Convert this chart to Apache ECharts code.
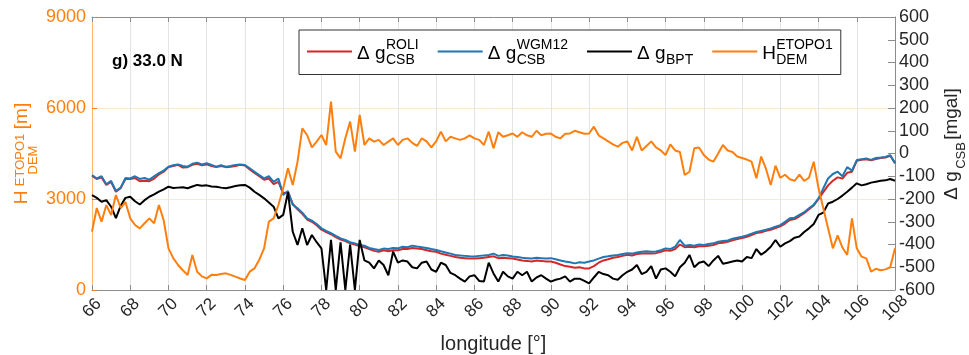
<!DOCTYPE html>
<html>
<head>
<meta charset="utf-8">
<script src="https://cdn.jsdelivr.net/npm/echarts@6/dist/echarts.min.js"></script>
<style>
  html, body { margin: 0; padding: 0; background: #fff; }
  #chart { width: 969px; height: 355px; }
</style>
</head>
<body>
<div id="chart"></div>
<script>
// longitude grid, 0.25 deg sampling from 66 to 108
const lon = [];
for (let i = 0; i <= 168; i++) lon.push(66 + i * 0.25);

// Δg CSB from ROLI [mgal]
const roli = [
  -98, -112, -105, -138, -125, -168, -152, -112,
  -112, -108, -122, -120, -122, -110, -92, -80,
  -60, -55, -50, -62, -60, -50, -45, -52,
  -48, -55, -60, -55, -60, -58, -55, -50,
  -53, -70, -85, -100, -115, -110, -135, -125,
  -175, -170, -222, -245, -265, -290, -300, -315,
  -335, -345, -355, -368, -378, -385, -395, -400,
  -408, -412, -420, -428, -432, -425, -430, -425,
  -425, -420, -420, -415, -418, -420, -425, -430,
  -432, -440, -445, -450, -455, -458, -460, -462,
  -462, -460, -458, -455, -452, -460, -458, -460,
  -462, -466, -470, -472, -475, -470, -472, -475,
  -475, -480, -488, -495, -498, -502, -500, -505,
  -505, -495, -480, -470, -465, -458, -455, -450,
  -445, -448, -442, -440, -438, -440, -438, -432,
  -425, -428, -420, -400, -412, -410, -412, -408,
  -408, -405, -402, -395, -392, -388, -382, -376,
  -372, -366, -358, -350, -346, -340, -335, -328,
  -320, -308, -292, -288, -276, -262, -245, -228,
  -200, -170, -140, -120, -105, -110, -85, -80,
  -32, -28, -25, -30, -24, -20, -18, -10,
  -40
];

// Δg CSB from WGM12 [mgal]
const wgm12 = [
  -95, -110, -100, -135, -120, -165, -150, -108,
  -110, -100, -112, -108, -115, -100, -86, -75,
  -58, -52, -48, -55, -58, -45, -40, -48,
  -43, -50, -58, -52, -58, -55, -50, -48,
  -51, -65, -80, -95, -109, -100, -125, -110,
  -182, -165, -225, -241, -260, -285, -295, -310,
  -329, -340, -350, -362, -373, -380, -390, -395,
  -402, -405, -415, -420, -424, -418, -420, -415,
  -417, -410, -412, -405, -409, -412, -415, -420,
  -424, -430, -435, -440, -446, -448, -450, -452,
  -453, -450, -448, -446, -440, -450, -446, -448,
  -453, -455, -458, -460, -462, -458, -460, -462,
  -460, -465, -470, -475, -478, -483, -478, -480,
  -475, -470, -462, -455, -452, -448, -446, -442,
  -438, -440, -435, -432, -430, -432, -431, -425,
  -417, -420, -410, -380, -405, -402, -405, -400,
  -402, -398, -395, -388, -385, -382, -375, -370,
  -366, -360, -352, -345, -340, -335, -329, -322,
  -315, -300, -285, -282, -270, -258, -241, -225,
  -197, -153, -110, -90, -80, -100, -60, -75,
  -29, -25, -22, -28, -20, -18, -15, -7,
  -44
];

// Δg BPT [mgal]
const bpt = [
  -183, -195, -212, -205, -234, -284, -230, -195,
  -190, -210, -224, -205, -190, -180, -168, -158,
  -146, -152, -150, -148, -153, -145, -138, -142,
  -140, -145, -146, -150, -153, -148, -143, -140,
  -138, -150, -168, -182, -197, -215, -234, -285,
  -270, -170, -344, -402, -329, -402, -358, -390,
  -417, -600, -380, -600, -390, -600, -400, -600,
  -380, -470, -480, -505, -470, -490, -535, -431,
  -480, -470, -475, -500, -505, -480, -475, -510,
  -520, -480, -490, -525, -535, -550, -563, -540,
  -535, -560, -563, -480, -527, -563, -520, -540,
  -550, -520, -535, -520, -563, -545, -535, -550,
  -563, -555, -550, -540, -563, -550, -550, -560,
  -571, -545, -520, -530, -535, -550, -555, -535,
  -520, -510, -490, -530, -520, -495, -550, -510,
  -505, -520, -540, -500, -480, -446, -500, -480,
  -475, -495, -470, -450, -485, -480, -475, -470,
  -475, -455, -460, -420, -445, -430, -410, -380,
  -410, -395, -385, -370, -365, -345, -329, -310,
  -270, -260, -220, -212, -200, -185, -168, -150,
  -131, -140, -135, -128, -124, -120, -118, -112,
  -120
];

// H DEM ETOPO1 [m]
const etopo1 = [
  1923, 2703, 2253, 2800, 2473, 3132, 2703, 2900,
  2363, 2143, 2033, 2200, 2363, 2198, 2802, 2300,
  1374, 1050, 824, 650, 494, 1154, 604, 450,
  384, 500, 494, 530, 549, 500, 439, 380,
  330, 604, 714, 1000, 1374, 2253, 2363, 2802,
  3352, 4011, 3462, 4230, 5330, 5110, 4700, 4890,
  5110, 4780, 6210, 4560, 4340, 5000, 5550, 4560,
  5770, 4780, 5000, 4890, 4950, 4780, 4890, 5000,
  4780, 4950, 5000, 4850, 4750, 5000, 4900, 4700,
  4900, 5220, 4900, 5050, 5000, 4950, 5000, 5100,
  5000, 4950, 4780, 5220, 4670, 5200, 5050, 5100,
  5160, 5050, 5200, 5100, 5050, 5250, 5100, 5150,
  5160, 5050, 5000, 5150, 5160, 5250, 5200, 5150,
  5160, 5385, 5100, 5000, 4900, 4800, 4725, 4850,
  4900, 4600, 5050, 4600, 4750, 4900, 4700, 4600,
  4450, 4800, 4600, 4550, 3791, 3900, 4670, 4700,
  4450, 4300, 4230, 4500, 4780, 4600, 4550, 4400,
  4350, 4300, 4230, 3682, 4400, 4000, 3462, 4100,
  3700, 3800, 3650, 3600, 3800, 3600, 3700, 4230,
  3352, 2693, 2033, 1374, 1800, 1400, 1154, 2363,
  1374, 1100, 1044, 604, 700, 650, 680, 750,
  1374
];

const FONT = '"Liberation Sans", Arial, Helvetica, sans-serif';
const ORANGE = '#ff7f0e';
const RED = '#d62728';
const BLUE = '#1f77b4';
const AXIS_GRAY = '#8c8c8c';
const TEXT = '#262626';

// legend labels with stacked super/subscripts (three text lines)
const legendLabels = {
  ROLI: '{a1| }{sup|ROLI}\n{base|Δ g}\n{a3| }{sub|CSB}',
  WGM12: '{a1| }{sup|WGM12}\n{base|Δ g}\n{a3| }{sub|CSB}',
  BPT: '{a1| }\n{base|Δ g}\n{a3| }{sub|BPT}',
  ETOPO1: '{h1| }{sup|ETOPO1}\n{base|H}\n{h3| }{sub|DEM}'
};

const toPairs = arr => arr.map((v, i) => [lon[i], v]);

const chart = echarts.init(document.getElementById('chart'));

const option = {
  animation: false,
  textStyle: { fontFamily: FONT },
  title: {
    text: 'g) 33.0 N',
    left: 112,
    top: 53,
    padding: 0,
    textStyle: { fontSize: 17, fontWeight: 'bold', color: '#000', fontFamily: FONT }
  },
  legend: {
    data: ['ROLI', 'WGM12', 'BPT', 'ETOPO1'],
    left: 299,
    top: 30,
    padding: [8, 8, 7, 8],
    itemGap: 19,
    itemWidth: 45,
    itemHeight: 2,
    icon: 'rect',
    borderColor: '#333',
    borderWidth: 1,
    backgroundColor: '#fff',
    formatter: name => legendLabels[name],
    textStyle: {
      fontFamily: FONT,
      color: '#000',
      rich: {
        a1: { width: 29, fontSize: 14, lineHeight: 14 },
        a3: { width: 29, fontSize: 14, lineHeight: 9 },
        h1: { width: 14, fontSize: 14, lineHeight: 14 },
        h3: { width: 14, fontSize: 14, lineHeight: 9 },
        sup: { fontSize: 14, lineHeight: 14, fontFamily: FONT },
        base: { fontSize: 19, lineHeight: 4, fontFamily: FONT },
        sub: { fontSize: 14, lineHeight: 9, fontFamily: FONT }
      }
    }
  },
  grid: { left: 92, right: 74, top: 17, bottom: 65, outerBoundsMode: 'none' },
  xAxis: [
    {
      type: 'value',
      min: 66,
      max: 108,
      interval: 2,
      position: 'bottom',
      name: 'longitude [°]',
      nameLocation: 'middle',
      nameGap: 44,
      nameMoveOverlap: false,
      nameTextStyle: { fontSize: 20, color: TEXT, fontFamily: FONT },
      axisLine: { show: true, onZero: false, lineStyle: { color: AXIS_GRAY, width: 1 } },
      axisTick: { show: true, inside: true, length: 5, lineStyle: { color: AXIS_GRAY } },
      axisLabel: {
        rotate: 45,
        align: 'center',
        verticalAlign: 'middle',
        margin: 18,
        fontSize: 17,
        color: TEXT,
        fontFamily: FONT
      },
      splitLine: { show: true, lineStyle: { color: '#e4e4e4', width: 1 } }
    },
    {
      type: 'value',
      min: 66,
      max: 108,
      interval: 2,
      position: 'top',
      axisLine: { show: true, onZero: false, lineStyle: { color: AXIS_GRAY, width: 1 } },
      axisTick: { show: true, inside: true, length: 5, lineStyle: { color: AXIS_GRAY } },
      axisLabel: { show: false },
      splitLine: { show: false }
    }
  ],
  yAxis: [
    {
      type: 'value',
      min: 0,
      max: 9000,
      interval: 3000,
      position: 'left',
      // every line has the same total width so centring keeps the stack aligned
      name: '{l1| }{lsup|ETOPO1}{lm| }\n{lb|H}{lgap| }{lbm|[m]}\n{l3| }{lsub|DEM}{lm3| }',
      nameLocation: 'middle',
      nameRotate: 90,
      nameGap: 48,
      nameMoveOverlap: false,
      nameTextStyle: {
        color: ORANGE,
        fontFamily: FONT,
        rich: {
          l1: { width: 14, fontSize: 13, lineHeight: 2 },
          lsup: { width: 61, fontSize: 13, lineHeight: 2, color: ORANGE, fontFamily: FONT },
          lm: { width: 27, fontSize: 13, lineHeight: 2 },
          lb: { width: 14, fontSize: 19, lineHeight: 2, color: ORANGE, fontFamily: FONT },
          lgap: { width: 61, fontSize: 19, lineHeight: 2 },
          lbm: { width: 27, fontSize: 19, lineHeight: 2, color: ORANGE, fontFamily: FONT },
          l3: { width: 14, fontSize: 13, lineHeight: 21 },
          lsub: { width: 61, fontSize: 13, lineHeight: 21, color: ORANGE, fontFamily: FONT },
          lm3: { width: 27, fontSize: 13, lineHeight: 21 }
        }
      },
      axisLine: { show: true, lineStyle: { color: '#ffb874', width: 1 } },
      axisTick: { show: true, inside: true, length: 5, lineStyle: { color: ORANGE } },
      axisLabel: { color: ORANGE, fontSize: 18, margin: 6, fontFamily: FONT, formatter: v => String(v) },
      splitLine: { show: true, lineStyle: { color: '#fde8d6', width: 1 } }
    },
    {
      type: 'value',
      min: -600,
      max: 600,
      interval: 100,
      position: 'right',
      // leading spacer pushes the label towards the top, as in the figure
      name: '{rs| }{rb|Δ g}{rgap| }{rbm|[mgal]}\n{rs2| }{r2| }{rsub|CSB}{rm| }',
      nameLocation: 'middle',
      nameRotate: 90,
      nameGap: 50,
      nameMoveOverlap: false,
      nameTextStyle: {
        color: TEXT,
        fontFamily: FONT,
        rich: {
          rs: { width: 20, fontSize: 19, lineHeight: 14 },
          rb: { width: 28, fontSize: 19, lineHeight: 14, color: TEXT, fontFamily: FONT },
          rgap: { width: 31, fontSize: 19, lineHeight: 14 },
          rbm: { width: 53, fontSize: 19, lineHeight: 14, color: TEXT, fontFamily: FONT },
          rs2: { width: 20, fontSize: 13, lineHeight: 5 },
          r2: { width: 29, fontSize: 13, lineHeight: 5 },
          rsub: { width: 30, fontSize: 13, lineHeight: 5, color: TEXT, fontFamily: FONT },
          rm: { width: 53, fontSize: 13, lineHeight: 5 }
        }
      },
      axisLine: { show: true, lineStyle: { color: AXIS_GRAY, width: 1 } },
      axisTick: { show: true, inside: true, length: 7, lineStyle: { color: AXIS_GRAY } },
      axisLabel: { color: TEXT, fontSize: 18, margin: 4, fontFamily: FONT },
      splitLine: { show: false }
    }
  ],
  series: [
    {
      name: 'ROLI', type: 'line', xAxisIndex: 0, yAxisIndex: 1,
      data: toPairs(roli), symbol: 'none', showSymbol: false,
      lineStyle: { color: RED, width: 2 }, itemStyle: { color: RED }
    },
    {
      name: 'WGM12', type: 'line', xAxisIndex: 0, yAxisIndex: 1,
      data: toPairs(wgm12), symbol: 'none', showSymbol: false,
      lineStyle: { color: BLUE, width: 2 }, itemStyle: { color: BLUE }
    },
    {
      name: 'BPT', type: 'line', xAxisIndex: 0, yAxisIndex: 1,
      data: toPairs(bpt), symbol: 'none', showSymbol: false,
      lineStyle: { color: '#000', width: 2 }, itemStyle: { color: '#000' }
    },
    {
      name: 'ETOPO1', type: 'line', xAxisIndex: 0, yAxisIndex: 0,
      data: toPairs(etopo1), symbol: 'none', showSymbol: false,
      lineStyle: { color: ORANGE, width: 2 }, itemStyle: { color: ORANGE }
    }
  ]
};

chart.setOption(option);
</script>
</body>
</html>
